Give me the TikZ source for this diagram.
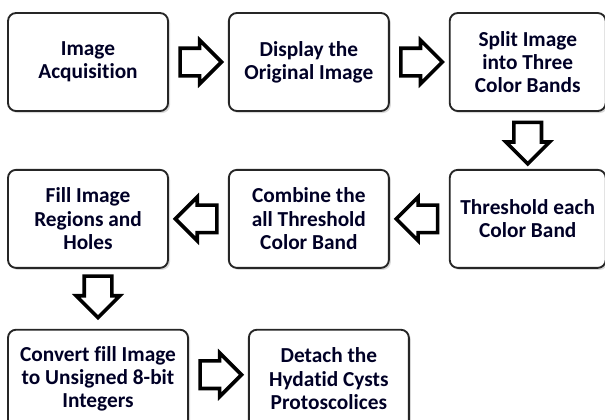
\documentclass[tikz,border=0pt]{standalone}
\usepackage{fontspec}
\setmainfont{Carlito}[Ligatures=NoCommon]
\usetikzlibrary{positioning,shapes.arrows,shadows}

\begin{document}
\begin{tikzpicture}[font=\fontsize{16}{17.5}\selectfont\bfseries,
  bx/.style={draw=black!85,line width=1.4pt,rounded corners=6pt,align=center,minimum height=73.5pt,minimum width=120pt,fill=white,
    text=black!85!blue,drop shadow={shadow xshift=1.5pt,shadow yshift=-1.5pt,opacity=0.3}},
  blk/.style={single arrow,draw=black,line width=2.7pt,fill=white,inner sep=9pt,
    minimum width=0pt,minimum height=30pt,single arrow head extend=6pt}]
  \useasboundingbox (0,0) rectangle (453.75pt,-314.25pt);
  \clip (0,0) rectangle (453.75pt,-314.25pt);
  % first row
  \node[bx] (acq) at (66pt,-46.5pt) {Image\\Acquisition};
  \node[bx,right=44.25pt of acq] (disp) {Display the\\Original Image};
  \node[bx,minimum width=117pt,right=44.25pt of disp] (split) {Split Image\\into Three\\Color Bands};
  % second row
  \node[bx,minimum width=117pt,below=42.75pt of split] (thr) {Threshold each\\Color Band};
  \node[bx,left=44.25pt of thr] (comb) {Combine the\\all Threshold\\Color Band};
  \node[bx,left=44.25pt of comb] (fill) {Fill Image\\Regions and\\Holes};
  % third row
  \node[bx,minimum width=135pt,below right=45pt and 0pt of fill.south west] (conv) {Convert fill Image\\to Unsigned 8-bit\\Integers};
  \node[bx,right=44.25pt of conv] (det) {Detach the\\Hydatid Cysts\\Protoscolices};
  % block arrows
  \node[blk,right=7pt of acq,anchor=tail] (ar1) {};
  \node[blk,right=7pt of disp,anchor=tail] (ar2) {};
  \node[blk,shape border rotate=270,below=6.5pt of split,anchor=tail] (ar3) {};
  \node[blk,shape border rotate=180,left=7pt of thr,anchor=tail] (ar4) {};
  \node[blk,shape border rotate=180,left=7pt of comb,anchor=tail] (ar5) {};
  \node[blk,shape border rotate=270,above=6.5pt of conv,anchor=tip] (ar6) {};
  \node[blk,right=7pt of conv,anchor=tail,yshift=3pt] (ar7) {};
\end{tikzpicture}
\end{document}
